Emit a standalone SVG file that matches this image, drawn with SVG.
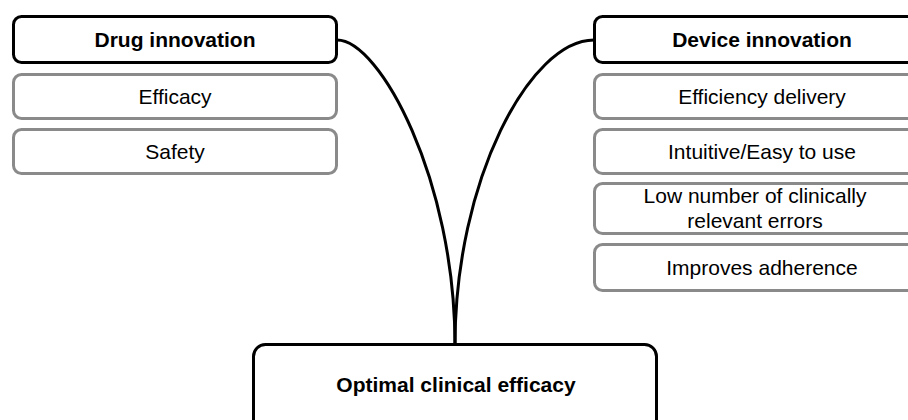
<svg xmlns="http://www.w3.org/2000/svg" width="908" height="420" viewBox="0 0 908 420">
<style>
.main{fill:#fff;stroke:#000;stroke-width:3}
.sub{fill:#fff;stroke:#8a8a8a;stroke-width:3}
.tb{font-family:"Liberation Sans",Arial,sans-serif;font-size:21px;font-weight:bold;fill:#000;text-anchor:middle}
.tr{font-family:"Liberation Sans",Arial,sans-serif;font-size:21px;fill:#000;text-anchor:middle}
.conn{fill:none;stroke:#000;stroke-width:3}
</style>
<rect width="908" height="420" fill="#fff"/>
<g id="connectors">
<path class="conn" d="M337,40 C380,40 455,180 455,345"/>
<path class="conn" d="M594,40 C530,40 455,180 455,345"/>
</g>
<g id="drug">
<rect class="main" x="13.5" y="16.5" width="323" height="46" rx="8"/>
<text class="tb" x="175" y="47">Drug innovation</text>
</g>
<g id="efficacy">
<rect class="sub" x="13.5" y="74.5" width="323" height="44" rx="8"/>
<text class="tr" x="175" y="104">Efficacy</text>
</g>
<g id="safety">
<rect class="sub" x="13.5" y="129.5" width="323" height="44" rx="8"/>
<text class="tr" x="175" y="159">Safety</text>
</g>
<g id="device">
<rect class="main" x="594.5" y="16.5" width="335" height="46" rx="8"/>
<text class="tb" x="762" y="47">Device innovation</text>
</g>
<g id="efficiency">
<rect class="sub" x="594.5" y="74.5" width="335" height="44" rx="8"/>
<text class="tr" x="762" y="104">Efficiency delivery</text>
</g>
<g id="intuitive">
<rect class="sub" x="594.5" y="129.5" width="335" height="44" rx="8"/>
<text class="tr" x="762" y="159">Intuitive/Easy to use</text>
</g>
<g id="errors">
<rect class="sub" x="594.5" y="183.5" width="335" height="50" rx="8"/>
<text class="tr" x="755" y="203">Low number of clinically</text>
<text class="tr" x="755" y="228">relevant errors</text>
</g>
<g id="adherence">
<rect class="sub" x="594.5" y="244.5" width="335" height="46" rx="8"/>
<text class="tr" x="762" y="275">Improves adherence</text>
</g>
<g id="optimal">
<rect class="main" x="253.5" y="344.5" width="403" height="100" rx="12"/>
<text class="tb" x="456" y="392">Optimal clinical efficacy</text>
</g>
</svg>
